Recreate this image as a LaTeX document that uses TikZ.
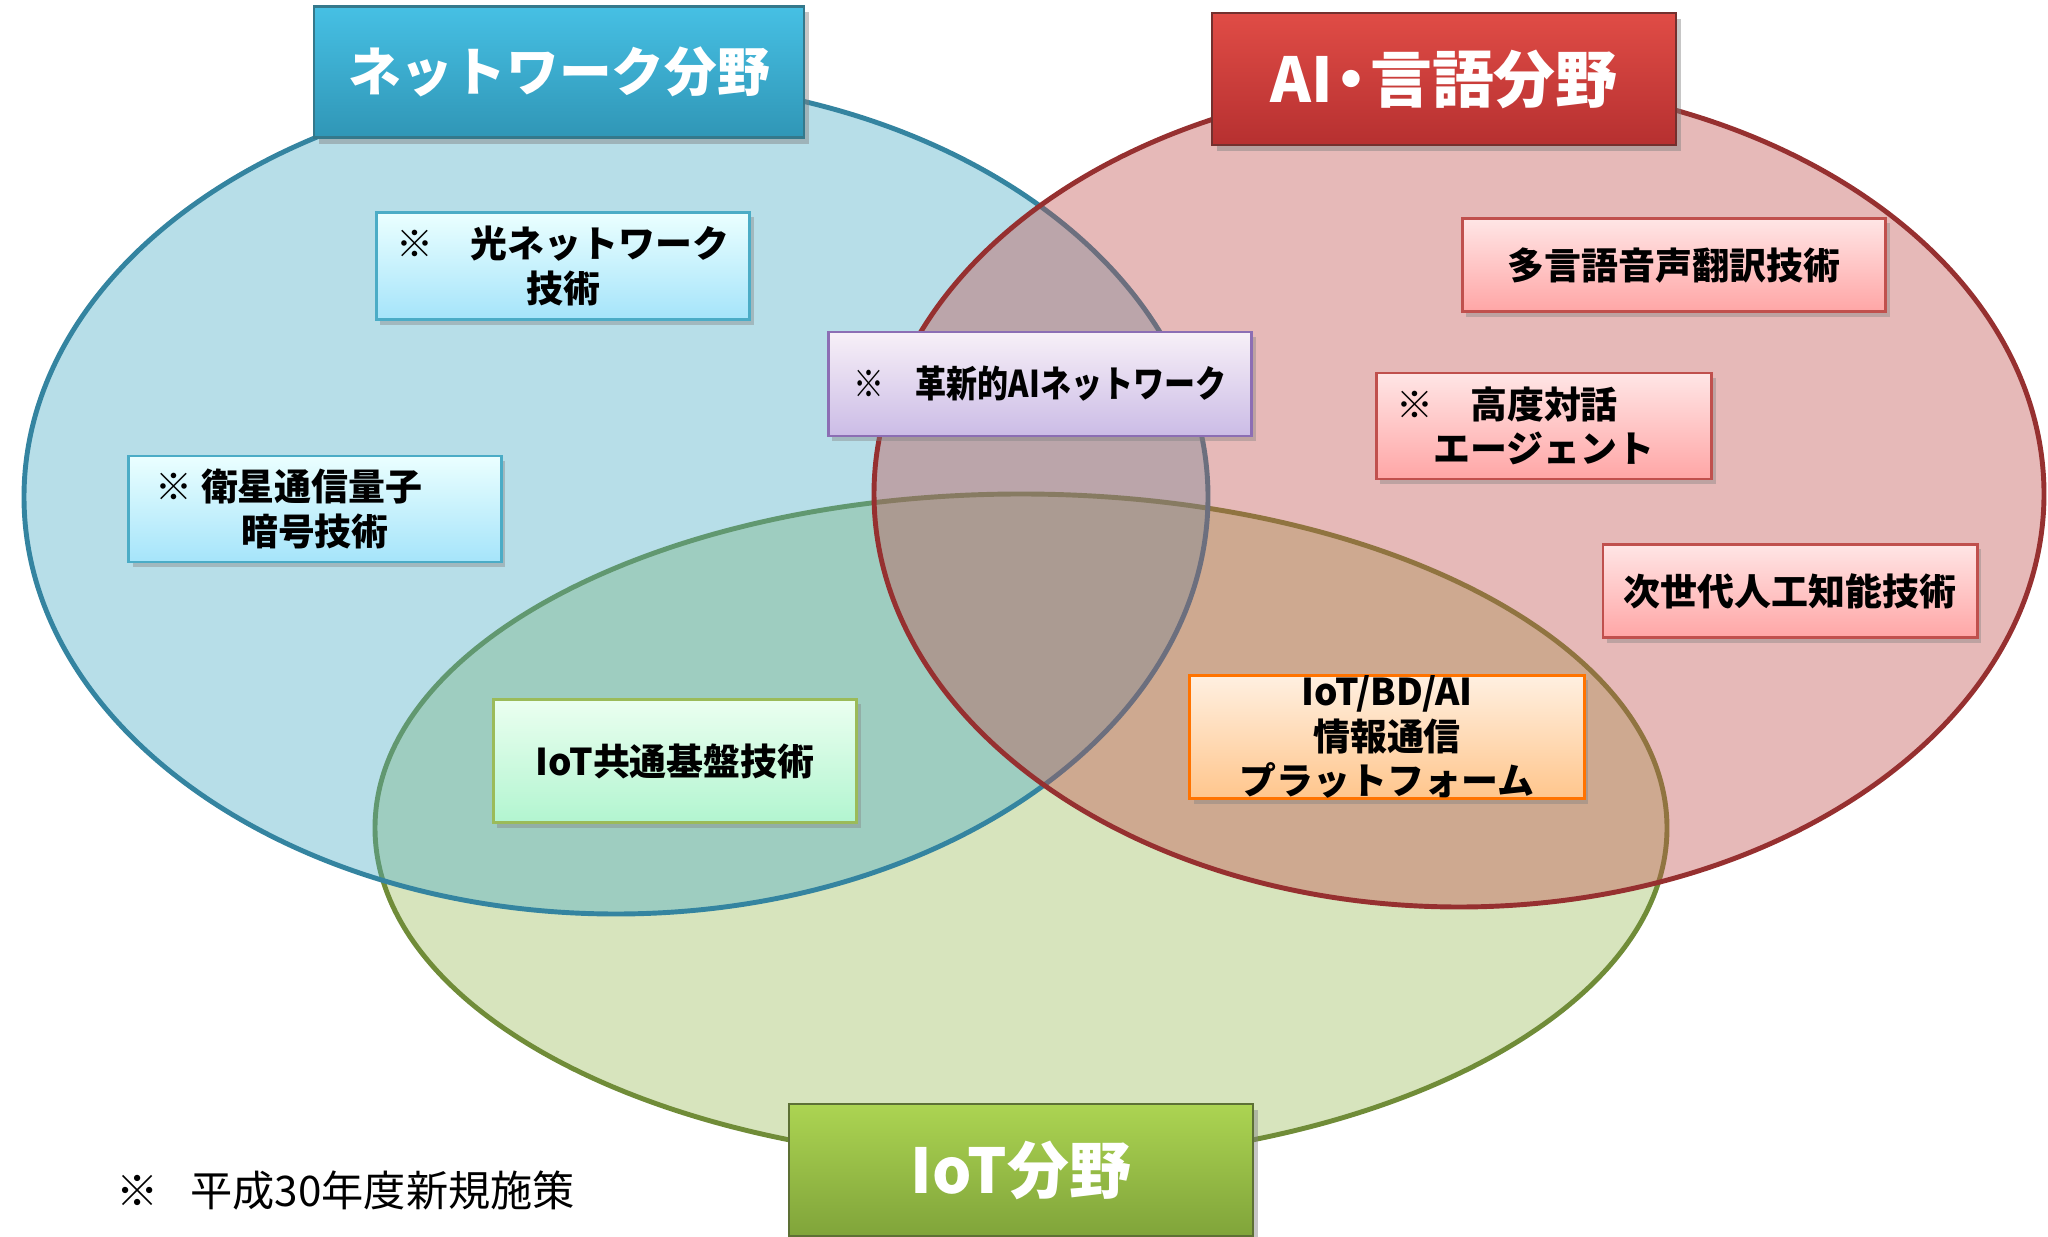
\documentclass[tikz,border=0pt]{standalone}
\usepackage{fontspec}
\setmainfont{Noto Sans CJK JP}
\newfontfamily\heavyjp{Noto Sans CJK JP Black}
\usetikzlibrary{shadows}

\definecolor{nwblue}{RGB}{75,172,198}
\definecolor{nwedge}{RGB}{52,132,160}
\definecolor{aired}{RGB}{192,80,77}
\definecolor{aiedge}{RGB}{150,48,48}
\definecolor{iotgreen}{RGB}{155,187,89}
\definecolor{iotedge}{RGB}{112,140,56}
\definecolor{nwtop}{RGB}{70,192,228}
\definecolor{nwbot}{RGB}{48,150,182}
\definecolor{aitop}{RGB}{224,76,70}
\definecolor{aibot}{RGB}{182,48,48}
\definecolor{iottop}{RGB}{172,212,82}
\definecolor{iotbot}{RGB}{128,164,58}
\definecolor{bluebot}{RGB}{165,228,250}
\definecolor{violetbot}{RGB}{203,188,230}
\definecolor{violetedge}{RGB}{140,110,180}
\definecolor{minttop}{RGB}{235,255,240}
\definecolor{mintbot}{RGB}{178,245,208}

\tikzset{
  field/.style={line width=1.4pt, fill opacity=0.4},
  fieldlabel/.style n args={3}{draw=#3, line width=0.6pt, top color=#1, bottom color=#2,
    text=white, inner sep=0pt,
    drop shadow={shadow xshift=0.05cm, shadow yshift=-0.06cm, opacity=0.45}},
  techbox/.style n args={3}{draw=#3, line width=0.8pt, top color=#1, bottom color=#2,
    font=\fontsize{10.5}{12.6}\selectfont\heavyjp, align=center, inner sep=0pt,
    drop shadow={shadow xshift=0.04cm, shadow yshift=-0.05cm, opacity=0.4}},
}

\begin{document}
\begin{tikzpicture}[x=0.01cm, y=-0.01cm]
    \useasboundingbox (0,0) rectangle (2048,1237);

    % three fields
    \draw[field, draw=iotedge, fill=iotgreen] (1021,828) ellipse [x radius=646, y radius=334];
    \draw[field, draw=nwedge, fill=nwblue] (616,497) ellipse [x radius=592, y radius=417];
    \draw[field, draw=aiedge, fill=aired] (1459,494) ellipse [x radius=585, y radius=413];

    % field titles
    \node[fieldlabel={nwtop}{nwbot}{nwblue!70!black}, font=\fontsize{15}{18}\selectfont\bfseries,
          minimum width=4.9cm, minimum height=1.31cm] (nwlabel) at (559,72) {ネットワーク分野};
    \node[fieldlabel={aitop}{aibot}{aired!60!black}, font=\fontsize{17.6}{20}\selectfont\bfseries,
          minimum width=4.63cm, minimum height=1.32cm] (ailabel) at (1444,79) {AI\kern-0.2em・\kern-0.2em言語分野};
    \node[fieldlabel={iottop}{iotbot}{iotgreen!60!black}, font=\fontsize{17.6}{20}\selectfont\bfseries,
          minimum width=4.64cm, minimum height=1.32cm] (iotlabel) at (1021,1170) {IoT分野};

    % measures
    \node[techbox={cyan!8!white}{bluebot}{nwblue},
          minimum width=3.73cm, minimum height=1.07cm] (optnet) at (563,266) {※　光ネットワーク\\技術};
    \node[techbox={cyan!8!white}{bluebot}{nwblue},
          minimum width=3.72cm, minimum height=1.06cm] (quantum) at (315,509) {※ 衛星通信量子\kern1.4em\\暗号技術};
    \node[techbox={violet!6!white}{violetbot}{violetedge},
          minimum width=4.23cm, minimum height=1.04cm] (ainet) at (1040,384) {\scalebox{0.84}[1]{※　革新的AIネットワーク}};
    \node[techbox={red!10!white}{red!35!white}{aired},
          minimum width=4.23cm, minimum height=0.93cm] (transl) at (1674,265) {多言語音声翻訳技術};
    \node[techbox={red!10!white}{red!35!white}{aired},
          minimum width=3.35cm, minimum height=1.06cm] (dialog) at (1544,426) {※　高度対話\kern2em\\エージェント};
    \node[techbox={red!10!white}{red!35!white}{aired},
          minimum width=3.74cm, minimum height=0.93cm] (nextai) at (1790,591) {次世代人工知能技術};
    \node[techbox={minttop}{mintbot}{iotgreen},
          minimum width=3.63cm, minimum height=1.23cm] (iotbase) at (675,761) {IoT共通基盤技術};
    \node[techbox={orange!12!white}{orange!45!white}{orange!90!red},
          minimum width=3.94cm, minimum height=1.23cm] (platform) at (1387,737) {IoT/BD/AI\\情報通信\\プラットフォーム};

    % footnote
    \node[anchor=west, font=\fontsize{12}{14}\selectfont, inner sep=0pt] (note) at (116,1191) {※\hspace{0.75em}平成30年度新規施策};
\end{tikzpicture}
\end{document}
